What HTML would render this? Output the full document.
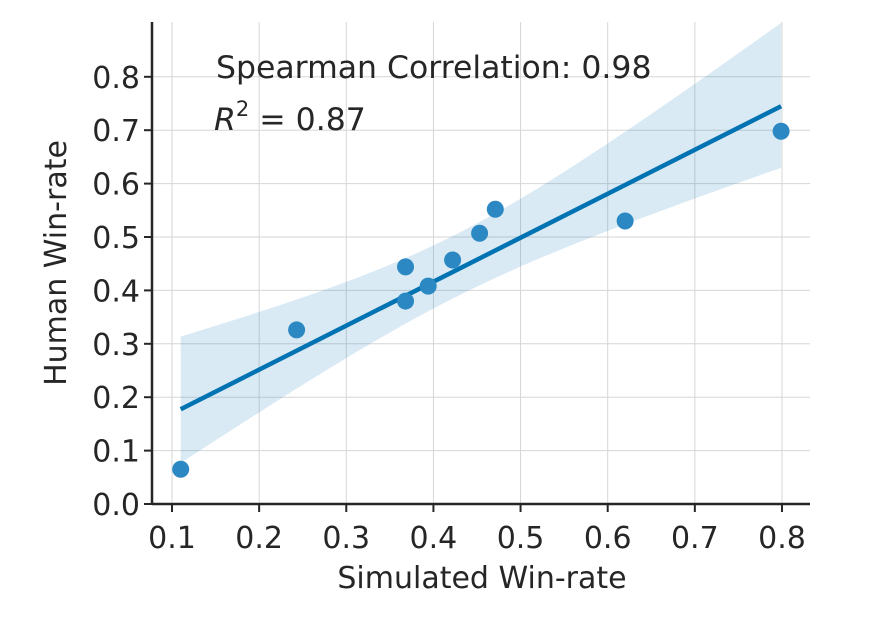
<!DOCTYPE html>
<html><head><meta charset="utf-8"><style>
body{margin:0;background:#fff;}
svg text{font-family:"DejaVu Sans","Liberation Sans",sans-serif;fill:#262626;}
</style></head><body>
<svg id="chart" width="870" height="613" xmlns="http://www.w3.org/2000/svg">
<g id="grid"></g>
<g id="band"></g>
<g id="points"></g>
<g id="axes"></g>
<text x="216" y="78" font-size="31.5">Spearman Correlation: 0.98</text>
<text x="214" y="130" font-size="31.5"><tspan font-style="italic">R</tspan><tspan dy="-14" font-size="21">2</tspan><tspan dy="14"> = 0.87</tspan></text>
<text x="482" y="588" font-size="30" text-anchor="middle">Simulated Win-rate</text>
<text transform="translate(66,263) rotate(-90)" font-size="30" text-anchor="middle">Human Win-rate</text>
</svg>
<script>
const simWin=[0.110,0.243,0.368,0.368,0.394,0.422,0.453,0.471,0.620,0.799];
const humanWin=[0.065,0.326,0.444,0.380,0.408,0.457,0.507,0.552,0.530,0.698];
const xTicks=[0.1,0.2,0.3,0.4,0.5,0.6,0.7,0.8];
const yTicks=[0.0,0.1,0.2,0.3,0.4,0.5,0.6,0.7,0.8];
const NS="http://www.w3.org/2000/svg";
const X0=152,X1=810,Y0=504,Y1=22;
const xs=v=>172+(v-0.1)*871.4;
const ys=v=>504-v*534;
function mk(tag,attrs,parent){const e=document.createElementNS(NS,tag);for(const k in attrs)e.setAttribute(k,attrs[k]);parent.appendChild(e);return e;}
const grid=document.getElementById('grid'),axes=document.getElementById('axes'),band=document.getElementById('band'),pts=document.getElementById('points');
xTicks.forEach(t=>{const x=xs(t);
 const g=mk('line',{x1:x,x2:x,y1:Y1,y2:Y0,stroke:'#d6d6d6','stroke-width':1},grid);
 
 const tk=mk('line',{x1:x,x2:x,y1:Y0,y2:Y0+8,stroke:'#262626','stroke-width':2},axes);
 
 const tx=mk('text',{x:x,y:Y0+44,'font-size':30,'text-anchor':'middle'},axes);tx.textContent=t.toFixed(1);
 
});
yTicks.forEach(t=>{const y=ys(t);
 const g=mk('line',{x1:X0,x2:X1,y1:y,y2:y,stroke:'#d6d6d6','stroke-width':1},grid);
 
 const tk=mk('line',{x1:X0-8,x2:X0,y1:y,y2:y,stroke:'#262626','stroke-width':2},axes);
 
 const tx=mk('text',{x:X0-12,y:y+11,'font-size':30,'text-anchor':'end'},axes);tx.textContent=t.toFixed(1);
 
});
const sp1=mk('line',{x1:X0,x2:X0,y1:Y1,y2:Y0,stroke:'#262626','stroke-width':2.5},axes);

const sp2=mk('line',{x1:X0,x2:X1,y1:Y0,y2:Y0,stroke:'#262626','stroke-width':2.5},axes);

const n=simWin.length;const mx=simWin.reduce((a,b)=>a+b)/n,my=humanWin.reduce((a,b)=>a+b)/n;
let sxx=0,sxy=0;for(let i=0;i<n;i++){sxx+=(simWin[i]-mx)**2;sxy+=(simWin[i]-mx)*(humanWin[i]-my);}
const b=sxy/sxx,a=my-b*mx;let sse=0;for(let i=0;i<n;i++)sse+=(humanWin[i]-a-b*simWin[i])**2;
const se=Math.sqrt(sse/(n-2)),tcrit=2.9;
const xmin=Math.min(...simWin),xmax=Math.max(...simWin);
const up=[],lo=[];for(let k=0;k<=60;k++){const x=xmin+(xmax-xmin)*k/60;const yh=a+b*x;const h=tcrit*se*Math.sqrt(1/n+(x-mx)**2/sxx);
 up.push(xs(x)+','+Math.max(ys(yh+h*1.15),Y1));lo.unshift(xs(x)+','+ys(yh-h*0.85));}
const poly=mk('polygon',{points:up.concat(lo).join(' '),fill:'#0173b2','fill-opacity':0.15},band);

const rl=mk('line',{x1:xs(xmin),y1:ys(a+b*xmin),x2:xs(xmax),y2:ys(a+b*xmax),stroke:'#0173b2','stroke-width':4.5},band);

for(let i=0;i<n;i++){const c=mk('circle',{cx:xs(simWin[i]),cy:ys(humanWin[i]),r:8.5,fill:'#2b88c2'},pts);
 }
</script>
</body></html>
